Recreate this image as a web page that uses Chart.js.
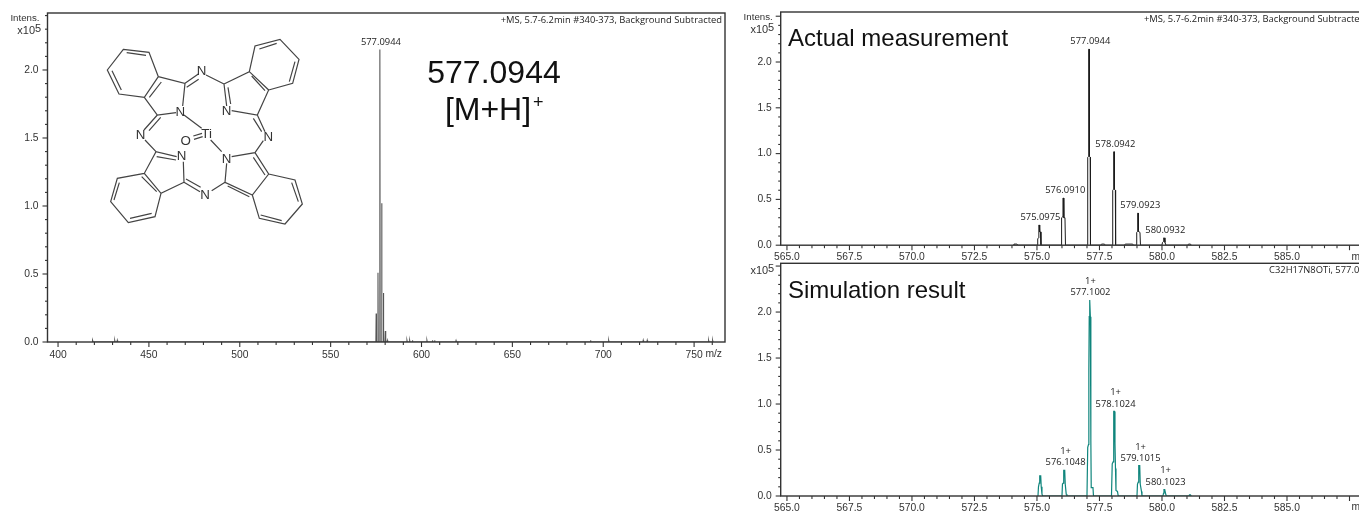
<!DOCTYPE html>
<html>
<head>
<meta charset="utf-8">
<title>Mass spectra</title>
<script src="https://cdn.jsdelivr.net/npm/chart.js@4"></script>
<style>
html, body { margin: 0; padding: 0; background: #fff; width: 1359px; height: 511px; overflow: hidden; }
canvas { position: absolute; }
#molecule { position: absolute; left: 0; top: 0; width: 1359px; height: 511px; pointer-events: none; }
#molecule text { font-family: "Liberation Sans", Arial, sans-serif; font-size: 40px; fill: #333; text-anchor: middle; dominant-baseline: central; }
</style>
</head>
<body>
<canvas id="fullChart" width="740" height="372" style="left:0;top:0"></canvas>
<canvas id="actualChart" width="640" height="262" style="left:740px;top:0"></canvas>
<canvas id="simChart" width="640" height="249" style="left:740px;top:262px"></canvas>

<!-- phthalocyanine structure, coordinates taken from a 3x crop -->
<svg id="molecule" viewBox="0 0 4077 1533">
  <path fill="none" stroke="#444" stroke-width="3.6" d="
    M370 148L447 157L475 230L433 292L357 282L322 210Z M380 158L438 166 M336 212L364 270 M448 292L484 246
    M475 230L555 250L548 318 M528 338L472 345L433 292 M555 250L595 222 M560 262L596 238 M618 225L672 252
    M672 252L748 215L806 270L772 345L695 332 M672 252L680 318 M684 262L692 312 M755 228L795 272
    M748 215L765 138L840 118L897 178L878 250L806 270 M778 147L830 130 M885 185L868 245
    M772 345L795 395 M760 355L785 395 M790 422L765 458L695 470 M765 458L806 522L757 585L675 547L680 490 M760 472L795 525 M683 558L748 590
    M806 522L885 540L907 612L855 672L778 655L757 585 M875 548L895 605 M782 645L845 662
    M675 547L635 572 M600 575L552 547 M558 537L602 562 M552 547L550 485 M552 547L483 580L433 520L468 455L530 470 M470 470L528 480 M425 530L470 575
    M433 520L352 535L332 605L385 668L465 650L483 580 M358 548L342 600 M390 655L455 640
    M468 455L435 420 M432 390L472 345 M447 392L482 352
    M552 345L605 385 M632 420L665 455 M580 408L606 400 M582 418L608 410"/>
  <text x="605" y="212">N</text>
  <text x="541" y="333">N</text>
  <text x="680" y="332">N</text>
  <text x="805" y="408">N</text>
  <text x="422" y="403">N</text>
  <text x="545" y="467">N</text>
  <text x="680" y="475">N</text>
  <text x="615" y="582">N</text>
  <text x="620" y="400">Ti</text>
  <text x="557" y="422">O</text>
</svg>

<script>
// Full scan spectrum (m/z, intensity x10^5)
const fullMz = [418.8, 419, 419.3, 431, 431.2, 431.4, 432.4, 432.6, 432.8, 574.9, 575.05, 575.2, 575.9, 576.05, 576.2, 576.9, 577.09, 577.25, 577.9, 578.09, 578.25, 578.9, 579.05, 579.2, 579.9, 580.09, 580.3, 581, 581.2, 581.4, 591.8, 592, 592.2, 593.3, 593.5, 593.7, 594.8, 595, 595.2, 602.8, 603, 603.2, 605.8, 606, 606.2, 607, 607.2, 607.4, 618.8, 619, 619.2, 692.8, 693, 693.2, 702.8, 703, 703.2, 721.8, 722, 722.2, 724, 724.2, 724.4, 757.8, 758, 758.2, 760, 760.2, 760.4];
const fullInt = [0, 0.012, 0, 0, 0.012, 0, 0, 0.012, 0, 0, 0.21, 0, 0, 0.51, 0, 0, 2.15, 0, 0, 1.02, 0, 0, 0.36, 0, 0, 0.08, 0, 0, 0.012, 0, 0, 0.012, 0, 0, 0.012, 0, 0, 0.012, 0, 0, 0.012, 0, 0, 0.012, 0, 0, 0.012, 0, 0, 0.01, 0, 0, 0.012, 0, 0, 0.012, 0, 0, 0.012, 0, 0, 0.012, 0, 0, 0.012, 0, 0, 0.012, 0];
const fullLabels = ['577.0944'];
const fullLabelHeights = [2.15];

// Zoomed measured spectrum
const actualMz = [574.05, 574.08, 574.2, 574.24, 575.02, 575.03, 575.065, 575.075, 575.095, 575.11, 575.14, 575.16, 575.97, 575.985, 576.03, 576.04, 576.06, 576.075, 576.12, 576.14, 577.02, 577.03, 577.065, 577.07, 577.09, 577.1, 577.13, 577.14, 577.55, 577.58, 577.7, 577.73, 578.02, 578.03, 578.06, 578.07, 578.09, 578.1, 578.135, 578.145, 578.5, 578.53, 578.83, 578.86, 578.98, 578.99, 579.02, 579.03, 579.05, 579.06, 579.12, 579.14, 580.0, 580.02, 580.06, 580.07, 580.09, 580.12, 580.16, 581.03, 581.06, 581.14, 581.17];
const actualInt = [0, 0.012, 0.012, 0, 0, 0.07, 0.08, 0.22, 0.22, 0.145, 0.145, 0, 0, 0.3, 0.31, 0.515, 0.515, 0.3, 0.3, 0, 0, 0.96, 0.97, 2.14, 2.14, 0.97, 0.96, 0, 0, 0.012, 0.012, 0, 0, 0.6, 0.61, 1.02, 1.02, 0.61, 0.6, 0, 0, 0.012, 0.012, 0, 0, 0.14, 0.15, 0.35, 0.35, 0.15, 0.14, 0, 0, 0.03, 0.04, 0.08, 0.08, 0.03, 0, 0, 0.012, 0.012, 0];
const actualLabels = ['575.0975', '576.0910', '577.0944', '578.0942', '579.0923', '580.0932'];
const actualLabelHeights = [0.22, 0.515, 2.14, 1.02, 0.35, 0.08];

// Zoomed simulated spectrum
const simMz = [575.04, 575.06, 575.09, 575.11, 575.15, 575.17, 575.2, 575.23, 576.0, 576.02, 576.05, 576.07, 576.11, 576.13, 576.17, 576.2, 577.0, 577.03, 577.06, 577.075, 577.09, 577.1, 577.12, 577.135, 577.15, 577.16, 577.17, 577.24, 577.26, 577.98, 578.01, 578.045, 578.06, 578.08, 578.1, 578.12, 578.14, 578.16, 578.22, 578.25, 579.0, 579.02, 579.05, 579.07, 579.11, 579.13, 579.18, 579.2, 580.04, 580.06, 580.08, 580.11, 580.14, 580.17, 581.08, 581.1, 581.14, 581.17];
const simInt = [0, 0.1, 0.14, 0.22, 0.22, 0.1, 0.02, 0, 0, 0.13, 0.14, 0.28, 0.28, 0.13, 0.02, 0, 0, 0.53, 0.56, 1.37, 1.95, 2.13, 2.13, 1.95, 1.37, 0.6, 0.09, 0.09, 0, 0, 0.35, 0.37, 0.57, 0.92, 0.92, 0.57, 0.3, 0.06, 0.05, 0, 0, 0.13, 0.15, 0.33, 0.33, 0.13, 0.05, 0, 0, 0.03, 0.07, 0.07, 0.03, 0, 0, 0.012, 0.012, 0];
const simLabels = ['576.1048', '577.1002', '578.1024', '579.1015', '580.1023'];
const simLabelHeights = [0.28, 2.13, 0.92, 0.33, 0.07];

// Axis labels
const yTickLabels = ['0.0', '0.5', '1.0', '1.5', '2.0'];
const fullXLabels = ['400', '450', '500', '550', '600', '650', '700', '750'];
const zoomXLabels = ['565.0', '567.5', '570.0', '572.5', '575.0', '577.5', '580.0', '582.5', '585.0'];

const TEXT_FONT = '"Open Sans", sans-serif';
const AXIS_FONT = '"Liberation Sans", Arial, sans-serif';

function toPoints(xs, ys) {
    return xs.map((x, i) => ({ x: x, y: ys[i] }));
}

// Frame, both tick lengths, peak labels and header text
const spectrumPlugin = {
    id: 'spectrum',
    afterDraw(chart, args, o) {
        const ctx = chart.ctx;
        const area = chart.chartArea;
        const xs = chart.scales.x;
        const ys = chart.scales.y;

        ctx.save();
        ctx.strokeStyle = '#333';
        ctx.lineWidth = 1.4;
        ctx.strokeRect(area.left, area.top, area.right - area.left, area.bottom - area.top);

        ctx.lineWidth = 1.1;
        xs.ticks.forEach(t => {
            const px = xs.getPixelForValue(t.value);
            const n = t.value / o.xMajorStep;
            const major = Math.abs(n - Math.round(n)) < 0.001;
            ctx.beginPath();
            ctx.moveTo(px, area.bottom);
            ctx.lineTo(px, area.bottom + (major ? 5 : 3));
            ctx.stroke();
        });
        ys.ticks.forEach(t => {
            const py = ys.getPixelForValue(t.value);
            const major = Math.round(t.value * 10) % 5 === 0;
            ctx.beginPath();
            ctx.moveTo(area.left, py);
            ctx.lineTo(area.left - (major ? 5 : 2.5), py);
            ctx.stroke();
        });

        // header at the top right
        ctx.fillStyle = '#222';
        ctx.font = '9.4px ' + TEXT_FONT;
        ctx.textBaseline = 'middle';
        ctx.textAlign = o.headerAlign;
        ctx.fillText(o.header, o.headerX, o.headerY);

        // peak labels
        ctx.textAlign = 'center';
        o.peakLabels.forEach((label, i) => {
            const px = xs.getPixelForValue(parseFloat(label));
            const py = ys.getPixelForValue(o.peakHeights[i]) - 7.5;
            ctx.fillText(label, px + 1, py);
            if (o.charge) ctx.fillText(o.charge, px + 1, py - 11.3);
        });

        // axis captions
        ctx.fillStyle = '#333';
        ctx.font = '10.3px ' + AXIS_FONT;
        ctx.textAlign = 'right';
        ctx.fillText('m/z', area.right - o.mzPad, area.bottom + o.mzY);
        if (o.showIntens) {
            ctx.font = '9.7px ' + AXIS_FONT;
            ctx.fillText('Intens.', area.left - 8, o.intensY);
        }
        ctx.font = '11px ' + AXIS_FONT;
        ctx.fillText('x10', area.left - 12.5, o.expY);
        ctx.font = '11px ' + AXIS_FONT;
        ctx.fillText('5', area.left - 6.5, o.expY - 2.5);

        // big caption text
        ctx.fillStyle = '#111';
        o.captions.forEach(c => {
            ctx.font = c.size + 'px ' + AXIS_FONT;
            ctx.textAlign = c.align;
            ctx.textBaseline = 'alphabetic';
            ctx.fillText(c.text, c.x, c.y);
        });
        ctx.restore();
    }
};

function makeSpectrum(id, setup) {
    new Chart(document.getElementById(id), {
        type: 'scatter',
        data: {
            datasets: [{
                data: toPoints(setup.mz, setup.intensity),
                showLine: true,
                borderColor: setup.color,
                borderWidth: setup.lineWidth,
                pointRadius: 0,
                tension: 0
            }]
        },
        options: {
            responsive: false,
            animation: false,
            layout: { padding: setup.padding, autoPadding: false },
            plugins: {
                legend: { display: false },
                tooltip: { enabled: false },
                spectrum: setup.decor
            },
            scales: {
                x: {
                    type: 'linear',
                    min: setup.xMin,
                    max: setup.xMax,
                    afterFit: s => {
                        s.height = setup.xHeight;
                        s.paddingLeft = s.paddingRight = 0;
                    },
                    grid: { display: false, drawTicks: false },
                    border: { display: false },
                    ticks: {
                        stepSize: setup.xStep,
                        autoSkip: false,
                        maxRotation: 0,
                        includeBounds: false,
                        padding: setup.xPad,
                        color: '#333',
                        font: { family: AXIS_FONT, size: 10.3 },
                        callback: v => {
                            const txt = v.toFixed(setup.xDigits);
                            return setup.xLabels.includes(txt) ? txt : '';
                        }
                    }
                },
                y: {
                    type: 'linear',
                    min: setup.yMin,
                    max: setup.yMax,
                    afterFit: s => {
                        s.width = setup.yWidth;
                        s.paddingTop = s.paddingBottom = 0;
                    },
                    grid: { display: false, drawTicks: false },
                    border: { display: false },
                    ticks: {
                        stepSize: 0.1,
                        autoSkip: false,
                        includeBounds: false,
                        padding: 9,
                        color: '#333',
                        font: { family: AXIS_FONT, size: 10.3 },
                        callback: v => {
                            const txt = v.toFixed(1);
                            return yTickLabels.includes(txt) ? txt : '';
                        }
                    }
                }
            }
        },
        plugins: [spectrumPlugin]
    });
}

makeSpectrum('fullChart', {
    mz: fullMz, intensity: fullInt, color: '#555', lineWidth: 1.1,
    padding: { top: 13, right: 15, left: 0, bottom: 0 },
    xMin: 394.2, xMax: 767, xStep: 10, xDigits: 0, xLabels: fullXLabels, xHeight: 30, xPad: 7,
    yMin: 0, yMax: 2.419, yWidth: 47.5,
    decor: {
        xMajorStep: 50, header: '+MS, 5.7-6.2min #340-373, Background Subtracted',
        headerAlign: 'right', headerX: 722, headerY: 20.5,
        peakLabels: fullLabels, peakHeights: fullLabelHeights, charge: '',
        mzPad: 3, mzY: 12, showIntens: true, intensY: 18, expY: 31,
        captions: [
            { text: '577.0944', size: 32, align: 'center', x: 494, y: 83 },
            { text: '[M+H]', size: 32, align: 'center', x: 488, y: 120 },
            { text: '+', size: 18, align: 'left', x: 533, y: 108 }
        ]
    }
});

makeSpectrum('actualChart', {
    mz: actualMz, intensity: actualInt, color: '#1c1c1c', lineWidth: 1,
    padding: { top: 12, right: 4, left: 0, bottom: 0 },
    xMin: 564.75, xMax: 588.56, xStep: 0.5, xDigits: 1, xLabels: zoomXLabels, xHeight: 16.8, xPad: 6,
    yMin: 0, yMax: 2.546, yWidth: 40.7,
    decor: {
        xMajorStep: 2.5, header: '+MS, 5.7-6.2min #340-373, Background Subtracted',
        headerAlign: 'left', headerX: 404, headerY: 19.5,
        peakLabels: actualLabels, peakHeights: actualLabelHeights, charge: '',
        mzPad: 8, mzY: 11.5, showIntens: true, intensY: 17, expY: 30,
        captions: [{ text: 'Actual measurement', size: 24, align: 'left', x: 48, y: 45.5 }]
    }
});

makeSpectrum('simChart', {
    mz: simMz, intensity: simInt, color: '#0f857c', lineWidth: 1.2,
    padding: { top: 1.3, right: 4, left: 0, bottom: 0 },
    xMin: 564.75, xMax: 588.56, xStep: 0.5, xDigits: 1, xLabels: zoomXLabels, xHeight: 15, xPad: 6,
    yMin: 0, yMax: 2.53, yWidth: 40.7,
    decor: {
        xMajorStep: 2.5, header: 'C32H17N8OTi, 577.0996',
        headerAlign: 'left', headerX: 529, headerY: 8.5,
        peakLabels: simLabels, peakHeights: simLabelHeights, charge: '1+',
        mzPad: 8, mzY: 11, showIntens: false, intensY: 0, expY: 9,
        captions: [{ text: 'Simulation result', size: 24, align: 'left', x: 48, y: 35.7 }]
    }
});
</script>
</body>
</html>
